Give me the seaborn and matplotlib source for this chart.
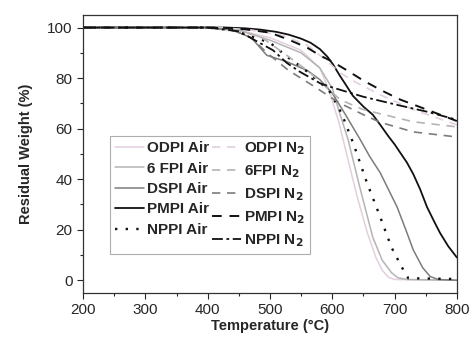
import matplotlib
matplotlib.use("Agg")
import pandas as pd
import matplotlib.pyplot as plt
import seaborn as sns
from matplotlib.ticker import MultipleLocator

# TGA curves (temperature in C, residual weight in %)
odpi_air_t = [200, 400, 450, 500, 550, 580, 595, 610, 620, 640, 656, 670, 680, 690, 700, 800]
odpi_air_w = [100, 100, 99, 96, 91, 84, 75, 63, 53, 33, 19, 9, 4, 1.2, 0.3, 0]

fpi_air_t = [200, 400, 450, 500, 550, 580, 600, 612, 625, 645, 665, 680, 695, 705, 720, 800]
fpi_air_w = [100, 100, 99, 95, 90, 84, 76, 66, 56, 36, 17, 8, 3, 1, 0.3, 0]

dspi_air_t = [200, 400, 440, 470, 495, 527, 560, 580, 600, 620, 645, 660, 677, 690, 704, 718, 730, 745, 757, 770, 800]
dspi_air_w = [100, 100, 99, 96, 89, 86.5, 83, 79.4, 74, 66, 55.6, 49, 42.5, 36, 29, 20, 12, 5, 1.5, 0.3, 0]

pmpi_air_t = [200, 430, 460, 484, 510, 530, 550, 565, 580, 592, 601, 612, 620, 633, 650, 665,
              677, 690, 700, 709, 720, 730, 741, 752, 763, 773, 786, 800]
pmpi_air_w = [100, 100, 99.7, 99.2, 98.3, 97.2, 95.6, 94, 91.5, 88.5, 85.5, 81, 78, 73, 68.7, 65.5,
              61.5, 57, 53.8, 50.5, 46.5, 42, 36, 29, 23.5, 18.7, 13.5, 9]

nppi_air_t = [200, 400, 440, 470, 500, 530, 550, 570, 595, 615, 634, 655, 677, 695, 712, 722, 800]
nppi_air_w = [100, 100, 99, 96.5, 94, 88, 84.5, 80.5, 75, 66, 54, 39, 25, 13, 5, 0.8, 0.5]

odpi_n2_t = [200, 420, 470, 520, 560, 590, 613, 640, 677, 730, 800]
odpi_n2_w = [100, 100, 99, 97, 93, 87, 82, 78, 73.4, 67.5, 61.5]

fpi_n2_t = [200, 400, 450, 490, 527, 560, 592, 613, 650, 730, 800]
fpi_n2_w = [100, 100, 99, 95.5, 89, 83, 76, 71.4, 67.5, 62.7, 60.7]

dspi_n2_t = [200, 400, 440, 470, 495, 530, 569, 600, 617, 650, 677, 730, 800]
dspi_n2_w = [100, 100, 99, 96, 90, 83, 77, 72, 69.5, 65.5, 62.5, 58.7, 56.7]

pmpi_n2_t = [200, 420, 460, 500, 532, 560, 580, 600, 624, 650, 680, 709, 752, 800]
pmpi_n2_w = [100, 100, 99.3, 98, 95, 92, 89, 86.5, 83, 79, 75, 71.5, 67.5, 63]

nppi_n2_t = [200, 400, 450, 505, 527, 548, 580, 596, 650, 704, 752, 800]
nppi_n2_w = [100, 100, 98.5, 91, 86, 82.5, 78, 76.6, 72.6, 69.4, 66.7, 63.5]

series = [
    ("ODPI Air", odpi_air_t, odpi_air_w, "#e2cfdf", "-", 1.1),
    ("6 FPI Air", fpi_air_t, fpi_air_w, "#b4b4b4", "-", 1.1),
    ("DSPI Air", dspi_air_t, dspi_air_w, "#7c7c7c", "-", 1.1),
    ("PMPI Air", pmpi_air_t, pmpi_air_w, "#111111", "-", 1.3),
    ("NPPI Air", nppi_air_t, nppi_air_w, "#111111", (0, (1, 3.5)), 1.7),
    (r"ODPI N$_\mathbf{2}$", odpi_n2_t, odpi_n2_w, "#e2cfdf", (0, (5, 4)), 1.2),
    (r"6FPI N$_\mathbf{2}$", fpi_n2_t, fpi_n2_w, "#b4b4b4", (0, (5, 4)), 1.2),
    (r"DSPI N$_\mathbf{2}$", dspi_n2_t, dspi_n2_w, "#7c7c7c", (0, (5, 4)), 1.2),
    (r"PMPI N$_\mathbf{2}$", pmpi_n2_t, pmpi_n2_w, "#111111", (0, (5, 4)), 1.4),
    (r"NPPI N$_\mathbf{2}$", nppi_n2_t, nppi_n2_w, "#111111", (0, (6, 2, 1.5, 2)), 1.3),
]

sns.set_style("ticks")
plt.rcParams["font.family"] = ["Liberation Sans", "DejaVu Sans"]

fig = plt.figure(figsize=(4.72, 3.39), dpi=100)
ax = fig.add_axes([0.176, 0.136, 0.792, 0.82])

for name, t, w, color, ls, lw in series:
    df = pd.DataFrame({"T": t, "W": w})
    sns.lineplot(data=df, x="T", y="W", ax=ax, color=color, linestyle=ls,
                 linewidth=lw, label=name)

ax.set_xlim(200, 800)
ax.set_ylim(-5, 105)
ax.xaxis.set_major_locator(MultipleLocator(100))
ax.xaxis.set_minor_locator(MultipleLocator(50))
ax.yaxis.set_major_locator(MultipleLocator(20))
ax.yaxis.set_minor_locator(MultipleLocator(10))
ax.tick_params(which="major", direction="out", length=4, width=0.8, labelsize=11)
ax.tick_params(which="minor", direction="out", length=2.5, width=0.8)
ax.set_xlabel("Temperature (°C)", fontsize=10.5, fontweight="bold", labelpad=1)
ax.set_ylabel("Residual Weight (%)", fontsize=10.5, fontweight="bold", labelpad=10)
for s in ax.spines.values():
    s.set_linewidth(0.9)
    s.set_color("#333333")

leg = ax.legend(ncol=2, loc="lower left", bbox_to_anchor=(0.072, 0.14),
                prop={"weight": "bold", "size": 11}, frameon=True, fancybox=False,
                edgecolor="#999999", handlelength=1.9, handletextpad=0.2,
                columnspacing=0.2, borderpad=0.3, labelspacing=0.42, borderaxespad=0)
leg.get_frame().set_linewidth(0.8)

plt.savefig("out.png", dpi=100)
